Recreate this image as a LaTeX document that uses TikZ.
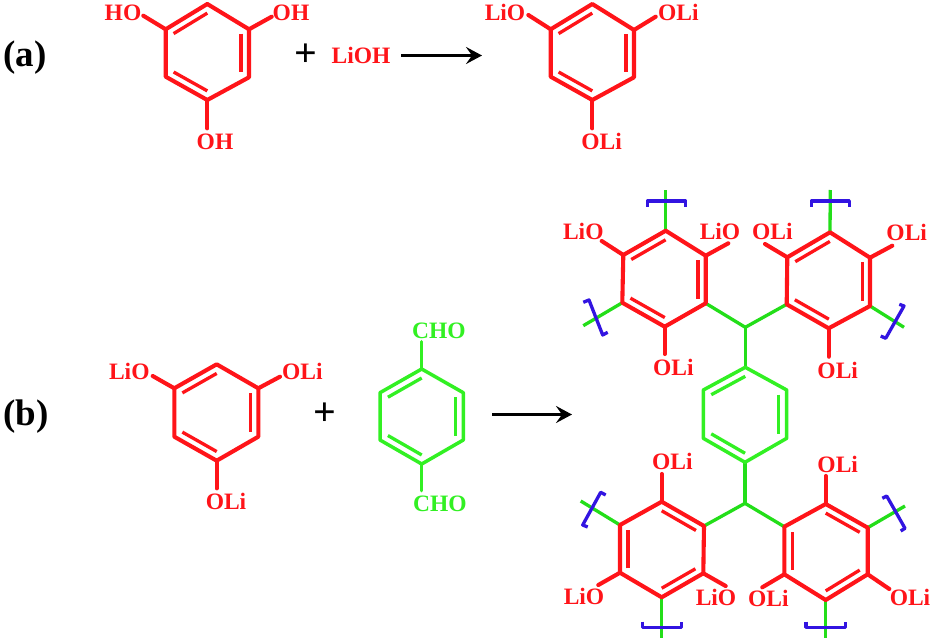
\documentclass[tikz,border=0pt]{standalone}
\usepackage{fontspec}
\setmainfont{Liberation Serif}
\usetikzlibrary{calc,backgrounds,arrows.meta}
\definecolor{chemred}{RGB}{255,20,25}
\definecolor{chemgreen}{RGB}{50,240,35}
\definecolor{linkgreen}{RGB}{35,222,25}
\definecolor{brblue}{RGB}{50,20,225}
\tikzset{
  atomlabel/.style={font=\bfseries\fontsize{23.5}{23.5}\selectfont,inner sep=0pt,text=#1},
  atomlabel/.default=chemred,
  panellabel/.style={font=\bfseries\fontsize{37}{37}\selectfont,inner sep=0pt,text=black},
  plussign/.style={font=\bfseries\fontsize{40}{40}\selectfont,inner sep=0pt,text=black},
  redbond/.style={draw=chemred,line width=4.1pt,line cap=round,line join=round},
  greenbond/.style={draw=chemgreen,line width=3.5pt,line cap=round,line join=round},
  linkbond/.style={draw=linkgreen,line width=3.3pt},
  bracketline/.style={draw=brblue,line width=3.3pt,line join=round},
  reaction/.style={draw=black,line width=3pt,-{Stealth[length=16pt,width=17pt,inset=6pt]}},
}
% name, bond style, double pattern (1 or 2), six vertices: top, UR, LR, bottom, LL, UL
\newcommand{\hexring}[9]{%
  \coordinate (#1-1) at #4;
  \coordinate (#1-2) at #5;
  \coordinate (#1-3) at #6;
  \coordinate (#1-4) at #7;
  \coordinate (#1-5) at #8;
  \coordinate (#1-6) at #9;
  \coordinate (#1-c) at ($(#1-1)!.5!(#1-4)$);
  \draw[#2] (#1-1) -- (#1-2) -- (#1-3) -- (#1-4) -- (#1-5) -- (#1-6) -- cycle;
  \ifnum#3=1
    \foreach \pa/\pb in {6/1,2/3,4/5}
      \draw[#2,line cap=butt,line width=3.3pt] ($(#1-\pa)!.19!(#1-c)$) -- ($(#1-\pb)!.19!(#1-c)$);
  \else
    \foreach \pa/\pb in {1/2,3/4,5/6}
      \draw[#2,line cap=butt,line width=3.3pt] ($(#1-\pa)!.19!(#1-c)$) -- ($(#1-\pb)!.19!(#1-c)$);
  \fi
}
% vertex, label name, text, label position, bond end, bond style, label colour
\newcommand{\subst}[7]{%
  \node[atomlabel=#7] (#2) at #4 {#3};
  \coordinate (#2-e) at #5;
  \draw[#6] (#1) -- (#2-e);
}
% vertex, name, free end, bracket path
\newcommand{\chainend}[4]{%
  \coordinate (#2) at #3;
  \begin{scope}[on background layer]
    \draw[linkbond] (#1) -- (#2);
  \end{scope}
  \draw[bracketline] #4;
}
\begin{document}
\begin{tikzpicture}[x=1pt,y=-1pt]
\useasboundingbox (0,0) rectangle (934,642);
\begin{scope}[on background layer]
  \fill[white] (0,0) rectangle (934,642);
\end{scope}

% panel labels
\node[panellabel] (pa) at (25,58) {(a)};
\node[panellabel] (pb) at (26,417) {(b)};

% (a) phloroglucinol
\hexring{A}{redbond}{1}{(207.3,4)}{(249,29.3)}{(249,77.3)}{(207.3,100)}{(165.7,76.7)}{(165.7,29.3)}
\subst{A-6}{aHOl}{HO}{(123,12.7)}{(143.3,15.7)}{redbond}{chemred}
\subst{A-2}{aOHr}{OH}{(291,12.7)}{(271.7,16.7)}{redbond}{chemred}
\subst{A-4}{aOHb}{OH}{(215,142.3)}{(207.3,128.3)}{redbond}{chemred}
\node[plussign] (plusa) at (306,55) {+};
\node[atomlabel=chemred] (lioh) at (361,55) {LiOH};

% (a) product
\hexring{B}{redbond}{1}{(592.3,4)}{(634,30)}{(634,77.3)}{(592.3,100)}{(550.7,76.7)}{(550.7,29.3)}
\subst{B-6}{bLl}{LiO}{(505,12.3)}{(528.3,15)}{redbond}{chemred}
\subst{B-2}{bLr}{OLi}{(678.3,12.3)}{(655.7,16.7)}{redbond}{chemred}
\subst{B-4}{bLb}{OLi}{(601.7,141.7)}{(592.3,128.3)}{redbond}{chemred}
\coordinate (arrowaS) at (401,55.5);
\coordinate (arrowaE) at (482,55.5);
\draw[reaction] (arrowaS) -- (arrowaE);

% (b) reagent 1
\hexring{C}{redbond}{1}{(216.7,364.3)}{(258.3,388.3)}{(258.3,436.7)}{(216.7,460.7)}{(174.3,436.7)}{(174.3,388.3)}
\subst{C-6}{cLl}{LiO}{(129.3,371.7)}{(152.7,376)}{redbond}{chemred}
\subst{C-2}{cLr}{OLi}{(302.3,371.7)}{(280,376.7)}{redbond}{chemred}
\subst{C-4}{cLb}{OLi}{(226,501.7)}{(216.7,488.3)}{redbond}{chemred}
\node[plussign] (plusb) at (325,414) {+};

% (b) terephthalaldehyde
\hexring{D}{greenbond}{1}{(421.7,369)}{(463.3,392.7)}{(463.3,440)}{(421.7,464)}{(380,440)}{(380,392.7)}
\subst{D-1}{dT}{CHO}{(439,330.7)}{(421.7,341.7)}{greenbond}{chemgreen}
\subst{D-4}{dB}{CHO}{(440,504)}{(421.7,490.7)}{greenbond}{chemgreen}
\coordinate (arrowbS) at (492,414.5);
\coordinate (arrowbE) at (572,414.5);
\draw[reaction] (arrowbS) -- (arrowbE);

% polymer rings
\hexring{TL}{redbond}{1}{(665.7,230.7)}{(705.7,255.7)}{(705.7,303.3)}{(664.7,326.7)}{(622.3,302.7)}{(623.3,255)}
\hexring{TR}{redbond}{1}{(830,232.3)}{(870,257.7)}{(870,306)}{(828.7,328.3)}{(786.7,304.3)}{(787.3,257.3)}
\hexring{BL}{redbond}{2}{(661.7,501.7)}{(704,526)}{(703.3,573.3)}{(661.7,597.3)}{(620,572.7)}{(620,525)}
\hexring{BR}{redbond}{2}{(825.7,504)}{(867.7,527.7)}{(867.7,574.3)}{(825.7,600)}{(784.3,574.3)}{(784.3,526.7)}
\hexring{M}{greenbond}{1}{(745.3,367.3)}{(786.7,390)}{(786.7,438.3)}{(745,462.3)}{(703.3,438.3)}{(703.3,390)}

% polymer labels
\subst{TL-6}{tl1}{LiO}{(583.3,231.7)}{(601.7,241)}{redbond}{chemred}
\subst{TL-2}{tl2}{LiO}{(720,231.7)}{(728.3,243.3)}{redbond}{chemred}
\subst{TL-4}{tl3}{OLi}{(673.3,367.3)}{(664.7,354)}{redbond}{chemred}
\subst{TR-6}{tr1}{OLi}{(772.3,231.7)}{(765,244)}{redbond}{chemred}
\subst{TR-2}{tr2}{OLi}{(906.7,232.3)}{(892.3,245.7)}{redbond}{chemred}
\subst{TR-4}{tr3}{OLi}{(837.7,370)}{(828.7,356.7)}{redbond}{chemred}
\subst{BL-1}{bl1}{OLi}{(672.3,461.7)}{(661.7,474)}{redbond}{chemred}
\subst{BL-5}{bl2}{LiO}{(584,596.7)}{(598.3,585)}{redbond}{chemred}
\subst{BL-3}{bl3}{LiO}{(716,597.3)}{(725.7,586)}{redbond}{chemred}
\subst{BR-1}{br1}{OLi}{(837.7,464)}{(825.7,476)}{redbond}{chemred}
\subst{BR-5}{br2}{OLi}{(768.3,598.3)}{(762.3,587.3)}{redbond}{chemred}
\subst{BR-3}{br3}{OLi}{(910,597.3)}{(889.3,589)}{redbond}{chemred}

% methine links
\coordinate (CHt) at (745.3,327.3);
\coordinate (CHb) at (745,503.3);
\begin{scope}[on background layer]
  \draw[linkbond] (TL-3) -- (CHt);
  \draw[linkbond] (TR-5) -- (CHt);
  \draw[linkbond] (CHt) -- (M-1);
  \draw[linkbond] (M-4) -- (CHb);
  \draw[linkbond] (BL-2) -- (CHb);
  \draw[linkbond] (BR-6) -- (CHb);
\end{scope}

% chain ends with brackets
\chainend{TL-1}{e1}{(665.7,190)}{(647.3,206.7) -- (647.3,201) -- (685.7,201) -- (685.7,206.7)}
\chainend{TR-1}{e2}{(830.3,190)}{(811.3,206.7) -- (811.3,201) -- (849.3,201) -- (849.3,206.7)}
\chainend{TL-5}{e3}{(583.3,325.7)}{(583.3,302.3) -- (589,300) -- (602.7,335) -- (607.7,332.3)}
\chainend{TR-3}{e4}{(904,327.3)}{(899.3,304.3) -- (904,306) -- (885.7,338.3) -- (880.7,336)}
\chainend{BL-6}{e5}{(580.7,501)}{(605.7,495) -- (600.7,492.3) -- (582.7,525) -- (587.7,527)}
\chainend{BR-2}{e6}{(905,506)}{(882.3,498.3) -- (886.7,496) -- (905,528.3) -- (900.7,531)}
\chainend{BL-4}{e7}{(661.7,638.3)}{(642.7,621.7) -- (642.7,627.3) -- (681.7,627.3) -- (681.7,621.7)}
\chainend{BR-4}{e8}{(825.7,638.3)}{(806,621.7) -- (806,627.3) -- (845.3,627.3) -- (845.3,621.7)}
\end{tikzpicture}
\end{document}
